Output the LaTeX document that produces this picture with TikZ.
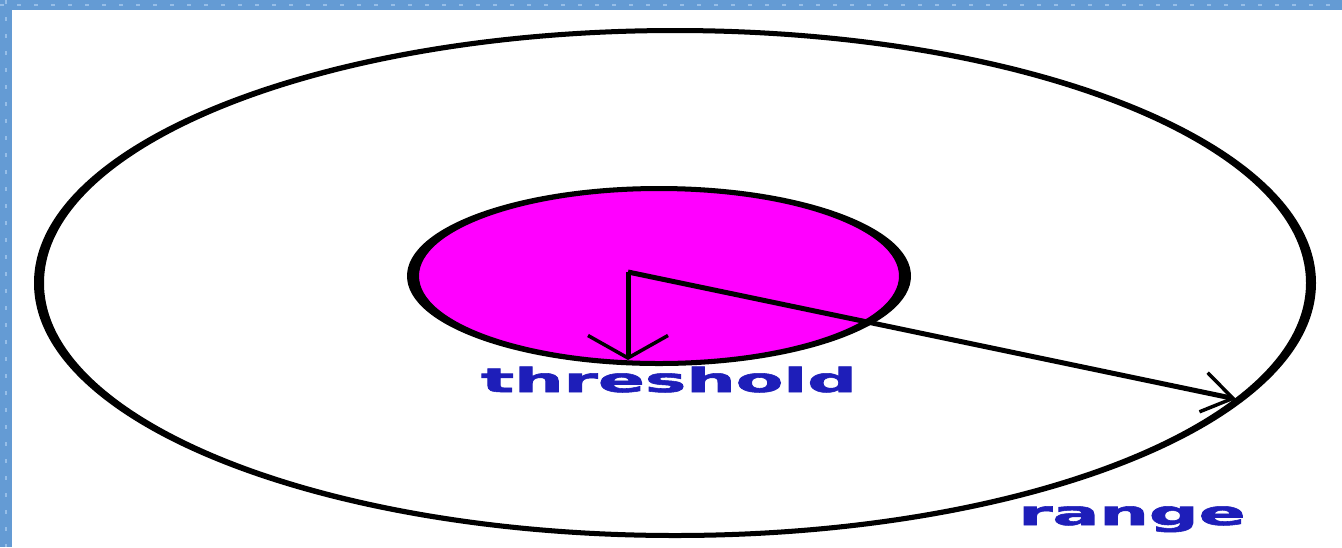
\documentclass[tikz,border=0pt]{standalone}
\usepackage{fontspec}
\setsansfont{DejaVu Sans}
\newfontfamily\zonefont[FakeBold=1.6]{DejaVu Sans Bold}
\usepackage{tikz}
\usetikzlibrary{arrows.meta}
\definecolor{framebl}{RGB}{100,155,212}
\definecolor{framelt}{RGB}{150,190,232}
\definecolor{zonemag}{RGB}{255,0,255}
\definecolor{labelbl}{RGB}{30,30,185}
\tikzset{
  frameband/.style={
    fill=framebl,
    draw=none
  },
  ringedge/.style={
    fill=black,
    even odd rule
  },
  thresholdzone/.style={
    fill=zonemag
  },
  radius arrow/.style={
    line width=1mm,
    black
  },
  thr tip/.style={
    -{Straight Barb[length=4.5mm,width=16mm,line width=0.7mm]}
  },
  rng tip/.style={
    -{Straight Barb[length=6mm,width=8mm,line width=0.7mm]}
  },
  zonelabel/.style={
    anchor=base,
    inner sep=0pt,
    text=labelbl,
    font=\zonefont\fontsize{19}{22}\selectfont
  }
}
\newcommand{\widelabel}[1]{\scalebox{2.08}[1]{#1}}

\begin{document}
\begin{tikzpicture}[x=0.2mm, y=-0.2mm]
  % Page size of the reference, in pixels
  \useasboundingbox (0,0) rectangle (1342,547);
  \fill[white] (0,0) rectangle (1342,547);

  % Frame bands on top and left
  \fill[frameband] (0,0) rectangle (1342,10);
  \fill[frameband] (0,0) rectangle (12,547);
  \draw[framelt, line width=0.3mm, dash pattern=on 0.8mm off 2.6mm] (0,5) -- (1342,5);
  \draw[framelt, line width=0.3mm, dash pattern=on 0.8mm off 2.6mm] (6,0) -- (6,547);

  % Range zone: edge thicker on the sides than on top
  \fill[ringedge] (675,283) ellipse [x radius=641, y radius=255]
                  (675,283) ellipse [x radius=631, y radius=250];

  % Threshold zone
  \fill[thresholdzone] (659,276) ellipse [x radius=246, y radius=87];
  \fill[ringedge] (659,276) ellipse [x radius=252, y radius=90]
                  (659,276) ellipse [x radius=240, y radius=85];

  % Radius points
  \coordinate (origin) at (628,272);
  \coordinate (thr-end) at (628,360);
  \coordinate (rng-end) at (1236,399);

  \draw[radius arrow, thr tip] (origin) -- (thr-end);
  \draw[radius arrow, rng tip] (origin) -- (rng-end);

  % Labels
  \node[zonelabel] (thr-label) at (669,392) {\widelabel{threshold}};
  \node[zonelabel] (rng-label) at (1132,525) {\widelabel{range}};
\end{tikzpicture}
\end{document}
